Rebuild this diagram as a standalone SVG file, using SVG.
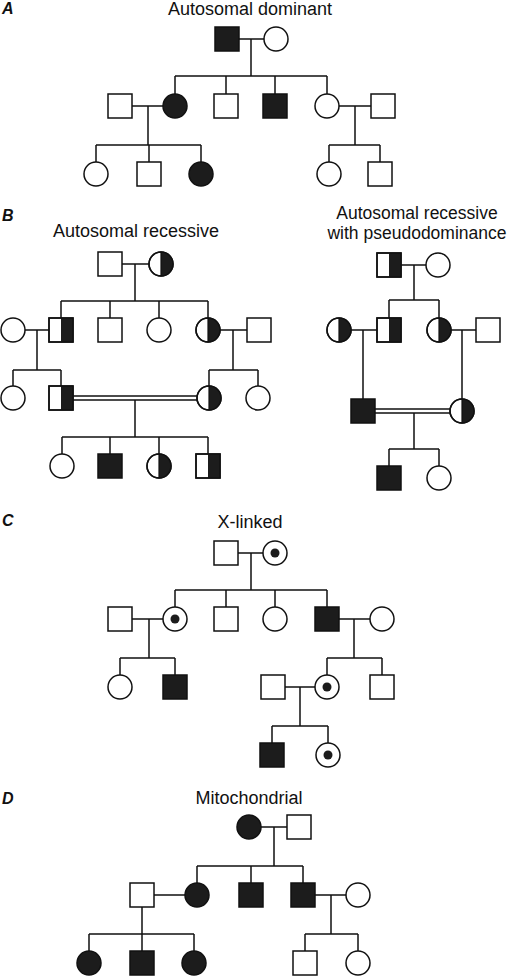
<svg xmlns="http://www.w3.org/2000/svg" xmlns:xlink="http://www.w3.org/1999/xlink" width="512" height="976" viewBox="0 0 512 976">
<style>
.ln{stroke:#111;stroke-width:1.5;fill:none}
.o{fill:#fff;stroke:#111;stroke-width:1.5}
.f{fill:#1c1c1c;stroke:#111;stroke-width:1.5}
.k{fill:#1c1c1c;stroke:none}
.t{font-family:"Liberation Sans",Arial,sans-serif;font-size:18px;fill:#111;text-anchor:middle}
.t2{font-family:"Liberation Sans",Arial,sans-serif;font-size:17.5px;fill:#111;text-anchor:middle}
.lab{font-family:"Liberation Sans",Arial,sans-serif;font-size:16px;font-weight:bold;font-style:italic;fill:#111}
</style>
<defs>
<g id="sq"><rect class="o" x="-12" y="-12" width="24" height="24"/></g>
<g id="sqF"><rect class="f" x="-12" y="-12" width="24" height="24"/></g>
<g id="sqH"><rect class="o" x="-12" y="-12" width="24" height="24"/><rect class="k" x="0" y="-12" width="12" height="24"/><rect x="-12" y="-12" width="24" height="24" fill="none" stroke="#111" stroke-width="1.5"/></g>
<g id="ci"><circle class="o" r="12"/></g>
<g id="ciF"><circle class="f" r="12"/></g>
<g id="ciH"><circle class="o" r="12"/><path class="k" d="M0,-12 A12,12 0 0 1 0,12 Z"/><circle r="12" fill="none" stroke="#111" stroke-width="1.5"/><line x1="0" y1="-12" x2="0" y2="12" stroke="#111" stroke-width="1.2"/></g>
<g id="ciD"><circle class="o" r="12"/><circle class="k" r="4.5"/></g>
</defs>

<text class="lab" x="2" y="14">A</text>
<text class="t" x="250" y="15">Autosomal dominant</text>
<text class="lab" x="2" y="221">B</text>
<text class="t" x="136" y="237">Autosomal recessive</text>
<text class="t2" x="417" y="218.5">Autosomal recessive</text>
<text class="t2" x="417" y="238.5">with pseudodominance</text>
<text class="lab" x="2" y="526">C</text>
<text class="t" x="250" y="528">X-linked</text>
<text class="lab" x="2" y="804">D</text>
<text class="t" x="249" y="804">Mitochondrial</text>

<g id="connectors">
<!-- A -->
<path class="ln" d="M239,39H264M251,39V76M175,76H327M175,76V94M226,76V94M275,76V94M327,76V94"/>
<path class="ln" d="M132,106H163M148,106V145M96,145H201M96,145V162M149,145V162M201,145V162"/>
<path class="ln" d="M339,106H371M355,106V145M329,145H380M329,145V162M380,145V162"/>
<!-- B left -->
<path class="ln" d="M122,264H149M135,264V301M61,301H208M61,301V318M110,301V318M159,301V318M208,301V318"/>
<path class="ln" d="M25,330H49M37,330V370M13,370H61M13,370V386M61,370V386"/>
<path class="ln" d="M220,330H247M233,330V370M209,370H258M209,370V386M258,370V386"/>
<path class="ln" d="M73,396H197M73,400H197M135,400V437M62,437H208M62,437V454M110,437V454M159,437V454M208,437V454"/>
<!-- B right -->
<path class="ln" d="M401,265H426M414,265V300M389,300H439M389,300V318M439,300V318"/>
<path class="ln" d="M351,330H377M363,330V399M451,330H476M462,330V399"/>
<path class="ln" d="M375,409H450M375,413H450M414,413V449M389,449H439M389,449V466M439,449V466"/>
<!-- C -->
<path class="ln" d="M238,553H263M251,553V590M175,590H327M175,590V607M226,590V607M275,590V607M327,590V607"/>
<path class="ln" d="M132,619H163M149,619V658M120,658H175M120,658V675M175,658V675"/>
<path class="ln" d="M339,619H370M354,619V658M327,658H382M327,658V675M382,658V675"/>
<path class="ln" d="M285,687H315M300,687V726M272,726H328M272,726V743M328,726V743"/>
<!-- D -->
<path class="ln" d="M261,827H287M274,827V866M197,866H303M197,866V883M251,866V883M303,866V883"/>
<path class="ln" d="M154,895H185M142,907V934M89,934H194M89,934V951M142,934V951M194,934V951"/>
<path class="ln" d="M315,895H346M331,895V934M305,934H358M305,934V951M358,934V951"/>
</g>

<!-- A nodes -->
<g id="a1"><use xlink:href="#sqF" x="227" y="39"/></g>
<g id="a2"><use xlink:href="#ci" x="276" y="39"/></g>
<g id="a3"><use xlink:href="#sq" x="120" y="106"/></g>
<g id="a4"><use xlink:href="#ciF" x="175" y="106"/></g>
<g id="a5"><use xlink:href="#sq" x="226" y="106"/></g>
<g id="a6"><use xlink:href="#sqF" x="275" y="106"/></g>
<g id="a7"><use xlink:href="#ci" x="327" y="106"/></g>
<g id="a8"><use xlink:href="#sq" x="383" y="106"/></g>
<g id="a9"><use xlink:href="#ci" x="96" y="174"/></g>
<g id="a10"><use xlink:href="#sq" x="149" y="174"/></g>
<g id="a11"><use xlink:href="#ciF" x="201" y="174"/></g>
<g id="a12"><use xlink:href="#ci" x="329" y="174"/></g>
<g id="a13"><use xlink:href="#sq" x="380" y="174"/></g>

<!-- B left nodes -->
<g id="b1"><use xlink:href="#sq" x="110" y="264"/></g>
<g id="b2"><use xlink:href="#ciH" x="161" y="264"/></g>
<g id="b3"><use xlink:href="#ci" x="13" y="330"/></g>
<g id="b4"><use xlink:href="#sqH" x="61" y="330"/></g>
<g id="b5"><use xlink:href="#sq" x="110" y="330"/></g>
<g id="b6"><use xlink:href="#ci" x="159" y="330"/></g>
<g id="b7"><use xlink:href="#ciH" x="208" y="330"/></g>
<g id="b8"><use xlink:href="#sq" x="259" y="330"/></g>
<g id="b9"><use xlink:href="#ci" x="13" y="398"/></g>
<g id="b10"><use xlink:href="#sqH" x="61" y="398"/></g>
<g id="b11"><use xlink:href="#ciH" x="209" y="398"/></g>
<g id="b12"><use xlink:href="#ci" x="258" y="398"/></g>
<g id="b13"><use xlink:href="#ci" x="62" y="466"/></g>
<g id="b14"><use xlink:href="#sqF" x="110" y="466"/></g>
<g id="b15"><use xlink:href="#ciH" x="159" y="466"/></g>
<g id="b16"><use xlink:href="#sqH" x="208" y="466"/></g>

<!-- B right nodes -->
<g id="p1"><use xlink:href="#sqH" x="389" y="265"/></g>
<g id="p2"><use xlink:href="#ci" x="438" y="265"/></g>
<g id="p3"><use xlink:href="#ciH" x="339" y="330"/></g>
<g id="p4"><use xlink:href="#sqH" x="389" y="330"/></g>
<g id="p5"><use xlink:href="#ciH" x="439" y="330"/></g>
<g id="p6"><use xlink:href="#sq" x="488" y="330"/></g>
<g id="p7"><use xlink:href="#sqF" x="363" y="411"/></g>
<g id="p8"><use xlink:href="#ciH" x="462" y="411"/></g>
<g id="p9"><use xlink:href="#sqF" x="389" y="478"/></g>
<g id="p10"><use xlink:href="#ci" x="439" y="478"/></g>

<!-- C nodes -->
<g id="c1"><use xlink:href="#sq" x="226" y="553"/></g>
<g id="c2"><use xlink:href="#ciD" x="275" y="553"/></g>
<g id="c3"><use xlink:href="#sq" x="120" y="619"/></g>
<g id="c4"><use xlink:href="#ciD" x="175" y="619"/></g>
<g id="c5"><use xlink:href="#sq" x="226" y="619"/></g>
<g id="c6"><use xlink:href="#ci" x="275" y="619"/></g>
<g id="c7"><use xlink:href="#sqF" x="327" y="619"/></g>
<g id="c8"><use xlink:href="#ci" x="382" y="619"/></g>
<g id="c9"><use xlink:href="#ci" x="120" y="687"/></g>
<g id="c10"><use xlink:href="#sqF" x="175" y="687"/></g>
<g id="c11"><use xlink:href="#sq" x="273" y="687"/></g>
<g id="c12"><use xlink:href="#ciD" x="327" y="687"/></g>
<g id="c13"><use xlink:href="#sq" x="382" y="687"/></g>
<g id="c14"><use xlink:href="#sqF" x="272" y="755"/></g>
<g id="c15"><use xlink:href="#ciD" x="328" y="755"/></g>

<!-- D nodes -->
<g id="d1"><use xlink:href="#ciF" x="249" y="827"/></g>
<g id="d2"><use xlink:href="#sq" x="299" y="827"/></g>
<g id="d3"><use xlink:href="#sq" x="142" y="895"/></g>
<g id="d4"><use xlink:href="#ciF" x="197" y="895"/></g>
<g id="d5"><use xlink:href="#sqF" x="251" y="895"/></g>
<g id="d6"><use xlink:href="#sqF" x="303" y="895"/></g>
<g id="d7"><use xlink:href="#ci" x="358" y="895"/></g>
<g id="d8"><use xlink:href="#ciF" x="89" y="963"/></g>
<g id="d9"><use xlink:href="#sqF" x="142" y="963"/></g>
<g id="d10"><use xlink:href="#ciF" x="194" y="963"/></g>
<g id="d11"><use xlink:href="#sq" x="305" y="963"/></g>
<g id="d12"><use xlink:href="#ci" x="358" y="963"/></g>
</svg>
